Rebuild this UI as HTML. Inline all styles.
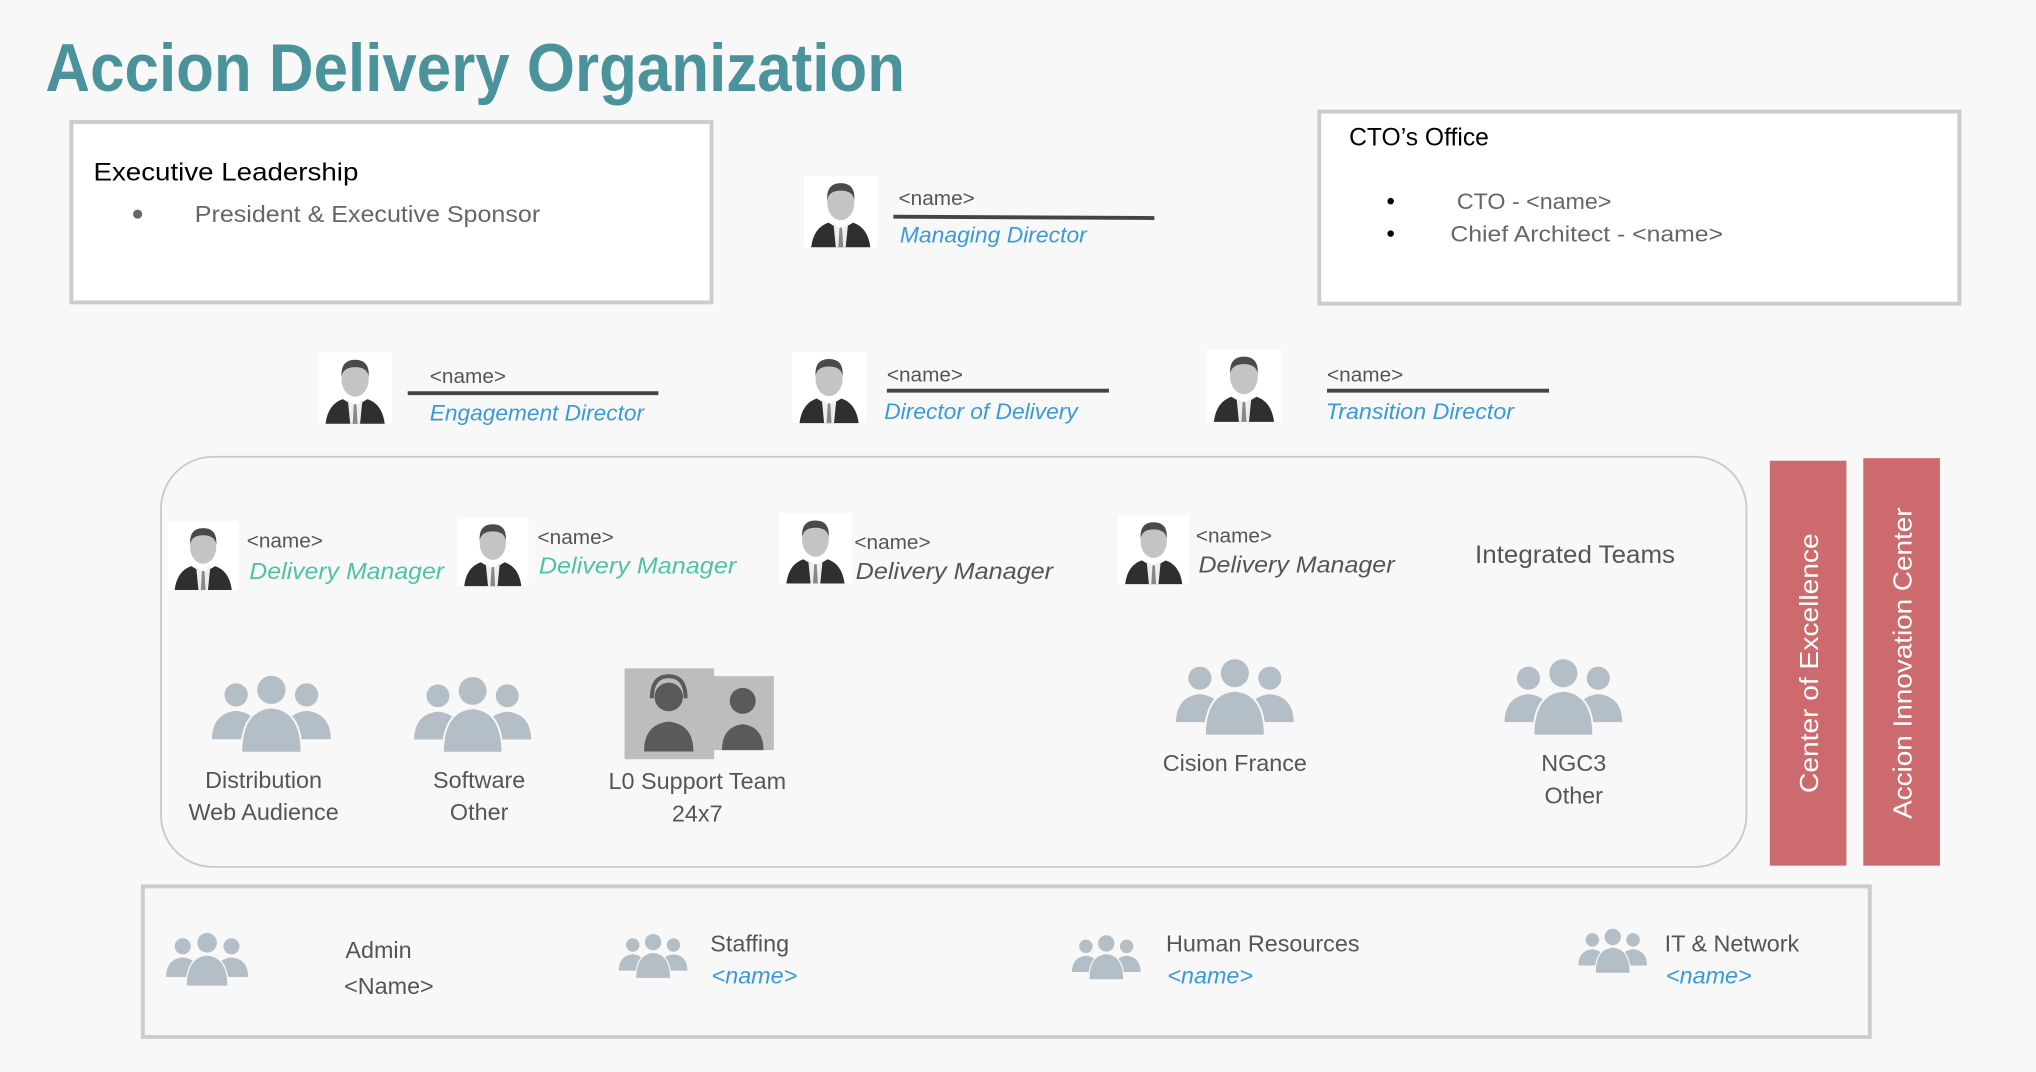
<!DOCTYPE html>
<html><head><meta charset="utf-8"><style>
html,body{margin:0;padding:0;background:#f8f8f8;}
svg{display:block;}
text{font-family:"Liberation Sans",sans-serif;}
</style></head><body>
<svg width="2036" height="1072" viewBox="0 0 1568 826" preserveAspectRatio="none">
<defs>
<symbol id="p" viewBox="0 0 60 58">
<rect width="60" height="58" fill="#fff"/>
<path d="M6 58 Q8 42 20 38 L30 44 L40 38 Q52 42 54 58 Z" fill="#2f2f2f"/>
<path d="M24 38 L30 44 L36 38 L34 58 L26 58 Z" fill="#eee"/>
<path d="M29 42 L31 42 L32 58 L28 58 Z" fill="#888"/>
<ellipse cx="30" cy="22" rx="11" ry="14" fill="#c4c4c4"/>
<path d="M19 20 Q18 6 30 6 Q42 6 41 20 Q40 12 30 12 Q20 12 19 20 Z" fill="#4a4a4a"/>
</symbol>
<symbol id="g" viewBox="0 0 100 64">
<g fill="#b3bec6" stroke="#f8f8f8" stroke-width="1.5">
<circle cx="22" cy="18" r="10"/><path d="M2 54 Q2 32 22 30 Q42 32 42 54 Z"/>
<circle cx="78" cy="18" r="10"/><path d="M58 54 Q58 32 78 30 Q98 32 98 54 Z"/>
<circle cx="50" cy="14" r="12"/><path d="M26 64 Q26 30 50 28 Q74 30 74 64 Z"/>
</g>
</symbol>
</defs>
<rect width="1568" height="826" fill="#f8f8f8"/>
<text x="35" y="70" font-size="52" font-weight="bold" fill="#4a939b" textLength="662" lengthAdjust="spacingAndGlyphs">Accion Delivery Organization</text>

<rect x="55" y="94" width="493" height="139" fill="#fff" stroke="#ccc" stroke-width="3"/>
<text x="72" y="139" font-size="19" fill="#000" textLength="204" lengthAdjust="spacingAndGlyphs">Executive Leadership</text>
<circle cx="106" cy="165" r="3.5" fill="#666"/>
<text x="150" y="171" font-size="18" fill="#666" textLength="266" lengthAdjust="spacingAndGlyphs">President &amp; Executive Sponsor</text>

<use href="#p" x="619" y="135" width="57" height="56"/>
<text x="692" y="158" font-size="16" fill="#555">&lt;name&gt;</text>
<line x1="688" y1="167" x2="889" y2="168" stroke="#444" stroke-width="3"/>
<text x="693" y="187" font-size="17" font-style="italic" fill="#3a9ad9" textLength="144" lengthAdjust="spacingAndGlyphs">Managing Director</text>

<rect x="1016" y="86" width="493" height="148" fill="#fff" stroke="#ccc" stroke-width="3"/>
<text x="1039" y="112" font-size="19" fill="#000">CTO’s Office</text>
<circle cx="1071" cy="155" r="2.5" fill="#000"/><circle cx="1071" cy="180" r="2.5" fill="#000"/>
<text x="1122" y="161" font-size="17" fill="#666" textLength="119" lengthAdjust="spacingAndGlyphs">CTO - &lt;name&gt;</text>
<text x="1117" y="186" font-size="17" fill="#666" textLength="210" lengthAdjust="spacingAndGlyphs">Chief Architect - &lt;name&gt;</text>

<use href="#p" x="245" y="270" width="57" height="58"/>
<text x="331" y="295" font-size="16" fill="#555">&lt;name&gt;</text>
<line x1="314" y1="303" x2="507" y2="303" stroke="#444" stroke-width="3"/>
<text x="331" y="324" font-size="17" font-style="italic" fill="#3a9ad9" textLength="165" lengthAdjust="spacingAndGlyphs">Engagement Director</text>
<use href="#p" x="610" y="270" width="57" height="57"/>
<text x="683" y="294" font-size="16" fill="#555">&lt;name&gt;</text>
<line x1="683" y1="301" x2="854" y2="301" stroke="#444" stroke-width="3"/>
<text x="681" y="323" font-size="17" font-style="italic" fill="#3a9ad9" textLength="149" lengthAdjust="spacingAndGlyphs">Director of Delivery</text>
<use href="#p" x="929" y="268" width="58" height="58"/>
<text x="1022" y="294" font-size="16" fill="#555">&lt;name&gt;</text>
<line x1="1022" y1="301" x2="1193" y2="301" stroke="#444" stroke-width="3"/>
<text x="1021" y="323" font-size="17" font-style="italic" fill="#3a9ad9" textLength="145" lengthAdjust="spacingAndGlyphs">Transition Director</text>

<rect x="124" y="352" width="1221" height="316" rx="40" fill="#f8f8f8" stroke="#ccc" stroke-width="1.5"/>
<use href="#p" x="129" y="400" width="55" height="56"/>
<text x="190" y="422" font-size="16" fill="#555">&lt;name&gt;</text>
<text x="192" y="446" font-size="18" font-style="italic" fill="#4fc3a1" textLength="150" lengthAdjust="spacingAndGlyphs">Delivery Manager</text>
<use href="#p" x="352" y="397" width="55" height="56"/>
<text x="414" y="419" font-size="16" fill="#555">&lt;name&gt;</text>
<text x="415" y="442" font-size="18" font-style="italic" fill="#4fc3a1" textLength="152" lengthAdjust="spacingAndGlyphs">Delivery Manager</text>
<use href="#p" x="600" y="394" width="56" height="57"/>
<text x="658" y="423" font-size="16" fill="#555">&lt;name&gt;</text>
<text x="659" y="446" font-size="18" font-style="italic" fill="#555" textLength="152" lengthAdjust="spacingAndGlyphs">Delivery Manager</text>
<use href="#p" x="861" y="395" width="55" height="57"/>
<text x="921" y="418" font-size="16" fill="#555">&lt;name&gt;</text>
<text x="923" y="441" font-size="18" font-style="italic" fill="#555" textLength="151" lengthAdjust="spacingAndGlyphs">Delivery Manager</text>
<text x="1136" y="434" font-size="19" fill="#555" textLength="154" lengthAdjust="spacingAndGlyphs">Integrated Teams</text>

<g font-size="18" fill="#555" text-anchor="middle">
<use href="#g" x="160" y="518" width="98" height="62"/>
<text x="203" y="607" fill="#555">Distribution</text><text x="203" y="632" fill="#555">Web Audience</text>
<use href="#g" x="316" y="519" width="96" height="61"/>
<text x="369" y="607" fill="#555">Software</text><text x="369" y="632" fill="#555">Other</text>
<text x="537" y="608" fill="#555">L0 Support Team</text><text x="537" y="633" fill="#555">24x7</text>
<use href="#g" x="903" y="505" width="96" height="62"/>
<text x="951" y="594" fill="#555">Cision France</text>
<use href="#g" x="1156" y="505" width="96" height="62"/>
<text x="1212" y="594" fill="#555">NGC3</text><text x="1212" y="619" fill="#555">Other</text>
</g>
<rect x="481" y="515" width="69" height="70" fill="#bdbdbd"/>
<rect x="549" y="521" width="47" height="57" fill="#bdbdbd"/>
<g fill="#5a5a5a">
<circle cx="515" cy="537" r="11"/><path d="M496 579 Q496 558 515 556 Q534 558 534 579 Z"/>
<path d="M502 538 Q502 521 515 521 Q528 521 528 538" fill="none" stroke="#5a5a5a" stroke-width="3"/>
<circle cx="572" cy="540" r="10"/><path d="M556 578 Q556 560 572 558 Q588 560 588 578 Z"/>
</g>

<rect x="1363" y="355" width="59" height="312" fill="#cd6a6e"/>
<rect x="1435" y="353" width="59" height="314" fill="#cd6a6e"/>
<text transform="translate(1400,511) rotate(-90)" font-size="20" fill="#fff" text-anchor="middle" textLength="200" lengthAdjust="spacingAndGlyphs">Center of Excellence</text>
<text transform="translate(1472,511) rotate(-90)" font-size="20" fill="#fff" text-anchor="middle" textLength="240" lengthAdjust="spacingAndGlyphs">Accion Innovation Center</text>

<rect x="110" y="683" width="1330" height="116" fill="#f8f8f8" stroke="#ccc" stroke-width="3"/>
<use href="#g" x="126" y="715" width="67" height="47"/>
<use href="#g" x="475" y="716" width="56" height="40"/>
<use href="#g" x="824" y="716" width="56" height="42"/>
<use href="#g" x="1214" y="712" width="56" height="40"/>
<g font-size="18" fill="#555">
<text x="266" y="738">Admin</text><text x="265" y="766">&lt;Name&gt;</text>
<text x="547" y="733">Staffing</text>
<text x="898" y="733">Human Resources</text>
<text x="1282" y="733">IT &amp; Network</text>
</g>
<g font-size="18" font-style="italic" fill="#3a9ad9">
<text x="548" y="758">&lt;name&gt;</text>
<text x="899" y="758">&lt;name&gt;</text>
<text x="1283" y="758">&lt;name&gt;</text>
</g>
</svg>
</body></html>
